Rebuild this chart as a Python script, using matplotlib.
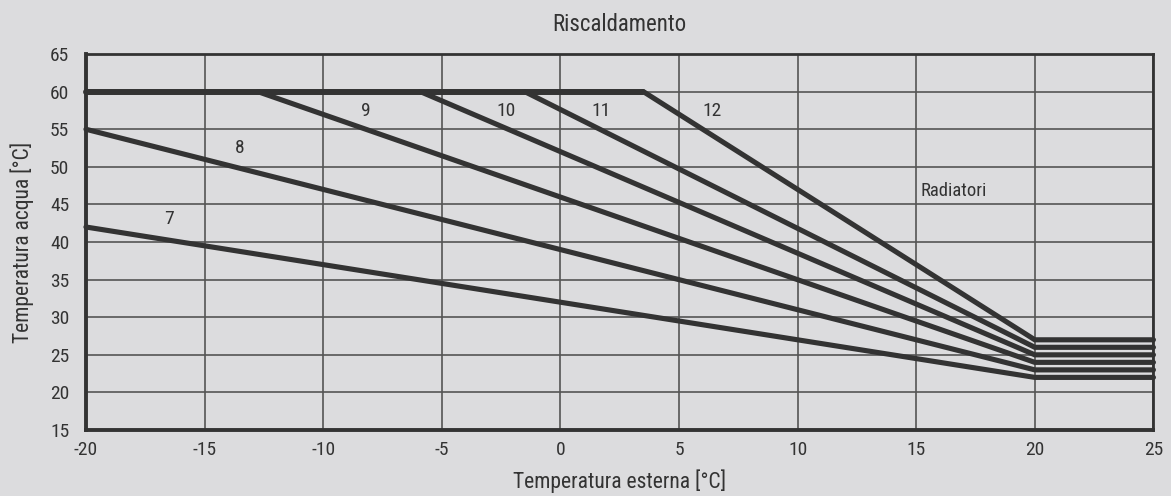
import matplotlib
matplotlib.use("Agg")
import matplotlib.pyplot as plt
from matplotlib import font_manager

# heating curves: label, x where the slope starts, water temp there, water temp at 20 °C
curve_names = ["7", "8", "9", "10", "11", "12"]
start_x = [-20, -20, -12.75, -5.9, -1.5, 3.5]
start_y = [42, 55, 60, 60, 60, 60]
end_y = [22, 23, 24, 25, 26, 27]
knee_x = 20
x_max = 25
cap_temp = 60

# label positions (data coords)
label_x = [-16.5, -13.5, -8.2, -2.3, 1.7, 6.4]
label_y = [43, 52.5, 57.4, 57.4, 57.4, 57.4]

x_ticks = [-20, -15, -10, -5, 0, 5, 10, 15, 20, 25]
y_ticks = [15, 20, 25, 30, 35, 40, 45, 50, 55, 60, 65]

# pick a narrow-ish font if one is installed
installed = {f.name for f in font_manager.fontManager.ttflist}
family = 'DejaVu Sans'
for cand in ['Liberation Sans Narrow', 'Roboto Condensed', 'Roboto', 'Liberation Sans']:
    if cand in installed:
        family = cand
        break
plt.rcParams['font.family'] = [family, 'DejaVu Sans']
plt.rcParams['font.weight'] = 'normal'
plt.rcParams['axes.unicode_minus'] = False

bg = '#dcdcde'
ink = '#333333'

fig = plt.figure(figsize=(11.71, 4.96), dpi=100, facecolor=bg)
ax = fig.add_axes([0.0734, 0.133, 0.9116, 0.758], facecolor=bg)

# flat top line at 60
ax.plot([-20, max(start_x)], [cap_temp, cap_temp], color=ink, lw=4.3,
        solid_capstyle='round', zorder=3, clip_on=False)

for name, sx, sy, ey in zip(curve_names, start_x, start_y, end_y):
    ax.plot([sx, knee_x, x_max], [sy, ey, ey], color=ink, lw=3.7,
            solid_capstyle='round', solid_joinstyle='miter', zorder=3,
            clip_on=False)

for name, lx, ly in zip(curve_names, label_x, label_y):
    ax.text(lx, ly, name, fontsize=14, color=ink, ha='center', va='center')

ax.text(16.6, 46.8, "Radiatori", fontsize=13.5, color=ink, ha='center', va='center')

ax.set_xlim(-20, 25)
ax.set_ylim(15, 65)
ax.set_xticks(x_ticks)
ax.set_yticks(y_ticks)
ax.tick_params(length=0, labelsize=14, colors=ink)
ax.tick_params(axis='x', pad=8)
ax.tick_params(axis='y', pad=12)
ax.grid(True, color='#555555', lw=1.2)
ax.set_axisbelow(True)
for sp in ax.spines.values():
    sp.set_color(ink)
    sp.set_linewidth(2.0)
ax.spines['left'].set_linewidth(2.8)
ax.spines['bottom'].set_linewidth(2.8)

ax.set_title("Riscaldamento", fontsize=16.5, color=ink, pad=16.5)
ax.set_xlabel("Temperatura esterna [°C]", fontsize=15.5, color=ink)
ax.set_ylabel("Temperatura acqua [°C]", fontsize=15.5, color=ink)
ax.xaxis.set_label_coords(0.5, -0.105)
ax.yaxis.set_label_coords(-0.049, 0.5)

fig.savefig("out.png", dpi=100, facecolor=bg)
